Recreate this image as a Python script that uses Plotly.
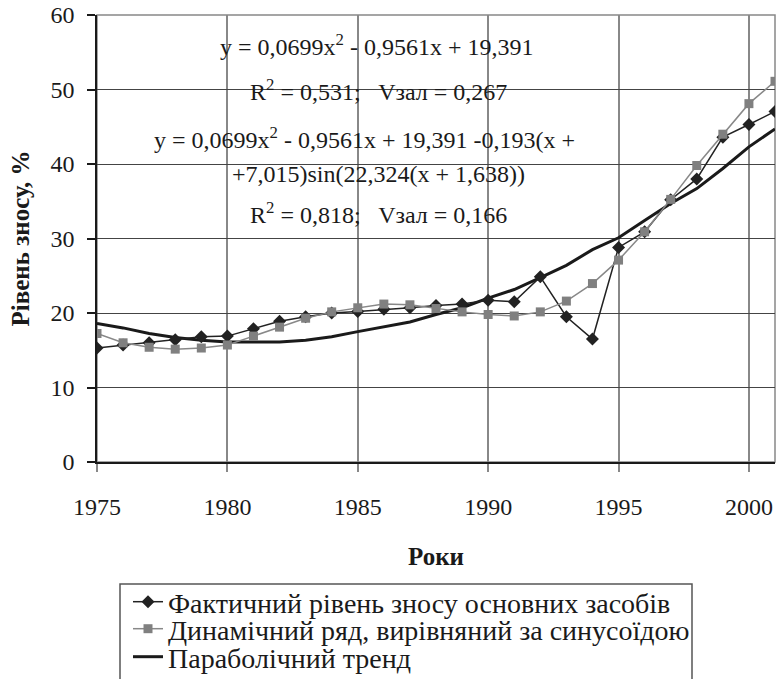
import plotly.graph_objects as go

years = list(range(1975, 2002))

actual = [15.3, 15.7, 16.0, 16.4, 16.8, 16.9, 17.9, 18.9, 19.5, 20.0,
          20.2, 20.5, 20.7, 21.0, 21.2, 21.7, 21.5, 24.85, 19.5, 16.5,
          28.8, 30.9, 35.2, 38.0, 43.6, 45.3, 47.05]

sinusoid = [17.25, 16.0, 15.4, 15.15, 15.3, 15.7, 16.9, 18.1, 19.3, 20.15,
            20.7, 21.2, 21.1, 20.6, 20.15, 19.8, 19.6, 20.15, 21.6, 23.95,
            27.1, 30.9, 35.25, 39.8, 44.0, 48.1, 51.1]

trend = [18.6, 18.0, 17.25, 16.7, 16.35, 16.1, 16.1, 16.1, 16.35, 16.8,
         17.5, 18.1, 18.8, 19.8, 20.7, 22.0, 23.15, 24.75, 26.4, 28.5,
         30.1, 32.4, 34.7, 36.7, 39.4, 42.3, 44.7]

x_ticks = [1975, 1980, 1985, 1990, 1995, 2000]
y_ticks = [0, 10, 20, 30, 40, 50, 60]

name_actual = "Фактичний рівень зносу основних засобів"
name_sin = "Динамічний ряд, вирівняний за синусоїдою"
name_trend = "Параболічний тренд"

eq_lines = [
    "y = 0,0699x<sup>2</sup> - 0,9561x + 19,391",
    "R<sup>2</sup> = 0,531;   Vзал = 0,267",
    "y = 0,0699x<sup>2</sup> - 0,9561x + 19,391 -0,193(x +",
    "+7,015)sin(22,324(x + 1,638))",
    "R<sup>2</sup> = 0,818;   Vзал = 0,166",
]

FONT = "Liberation Serif"

PL, PR, PT, PB = 97, 775, 15, 462          # plot area on screen
PW, PH = PR - PL, PB - PT


def px_x(x):
    return (x - PL) / PW


def px_y(y):
    return (PB - y) / PH


fig = go.Figure()
fig.add_trace(go.Scatter(
    x=years, y=trend, name=name_trend, mode="lines",
    line=dict(color="#1a1a1a", width=3), legend="legend3"))
fig.add_trace(go.Scatter(
    x=years, y=actual, name=name_actual, mode="lines+markers",
    line=dict(color="#222222", width=1.5),
    marker=dict(symbol="diamond", size=10, color="#222222"), legend="legend"))
fig.add_trace(go.Scatter(
    x=years, y=sinusoid, name=name_sin, mode="lines+markers",
    line=dict(color="#888888", width=1.5),
    marker=dict(symbol="square", size=9, color="#808080"), legend="legend2"))

# plot area border (top/right)
fig.add_shape(type="rect", xref="paper", yref="paper", x0=0, x1=1, y0=0, y1=1,
              line=dict(color="#888888", width=1.5), layer="below")

# legend box
fig.add_shape(type="rect", xref="paper", yref="paper",
              x0=px_x(120), x1=px_x(692), y0=px_y(720), y1=px_y(584),
              line=dict(color="#555555", width=1.5), fillcolor="rgba(0,0,0,0)")

ann_x = [218, 248, 152, 230, 248]
ann_y = [45, 90, 138, 174, 213]
for t, px, py in zip(eq_lines, ann_x, ann_y):
    fig.add_annotation(
        text=t, xref="paper", yref="paper",
        x=px_x(px), y=px_y(py),
        xanchor="left", yanchor="middle", showarrow=False,
        font=dict(family=FONT, size=24, color="#1a1a1a"))

leg_common = dict(x=px_x(128), xanchor="left", yanchor="middle",
                  borderwidth=0, bgcolor="rgba(0,0,0,0)",
                  font=dict(family=FONT, size=28, color="#1a1a1a"),
                  itemwidth=30)

fig.update_layout(
    width=778, height=679,
    margin=dict(l=PL, r=778 - PR, t=PT, b=679 - PB, autoexpand=False),
    paper_bgcolor="white", plot_bgcolor="white",
    font=dict(family=FONT, size=24, color="#1a1a1a"),
    showlegend=True,
    legend=dict(y=px_y(602), **leg_common),
    legend2=dict(y=px_y(629), **leg_common),
    legend3=dict(y=px_y(657), **leg_common),
)

fig.update_xaxes(
    range=[1975, 2001], tickvals=x_ticks, ticktext=[str(v) for v in x_ticks],
    showgrid=True, gridcolor="#888888", gridwidth=1.5,
    showline=True, linecolor="#1a1a1a", linewidth=1.5,
    ticks="outside", ticklen=8, tickcolor="#888888", tickwidth=1.5,
    ticklabelstandoff=14, zeroline=False, automargin=False,
    ticklabeloverflow="allow",
    tickfont=dict(family=FONT, size=24),
    title=dict(text="<b>Роки</b>", font=dict(family=FONT, size=25), standoff=29))

fig.update_yaxes(
    range=[0, 60], tickvals=y_ticks, ticktext=[str(v) for v in y_ticks],
    showgrid=True, gridcolor="#444444", gridwidth=1.2,
    showline=True, linecolor="#1a1a1a", linewidth=1.5,
    ticks="outside", ticklen=8, tickcolor="#1a1a1a", tickwidth=1.5,
    ticklabelstandoff=8, zeroline=False, automargin=False,
    ticklabeloverflow="allow",
    tickfont=dict(family=FONT, size=24),
    title=dict(text="<b>Рівень зносу, %</b>", font=dict(family=FONT, size=25), standoff=14))

fig.write_html("out.html",
               config={"displayModeBar": False},
               post_script="document.body.style.margin='0';"
                           "document.body.style.overflow='hidden';")
